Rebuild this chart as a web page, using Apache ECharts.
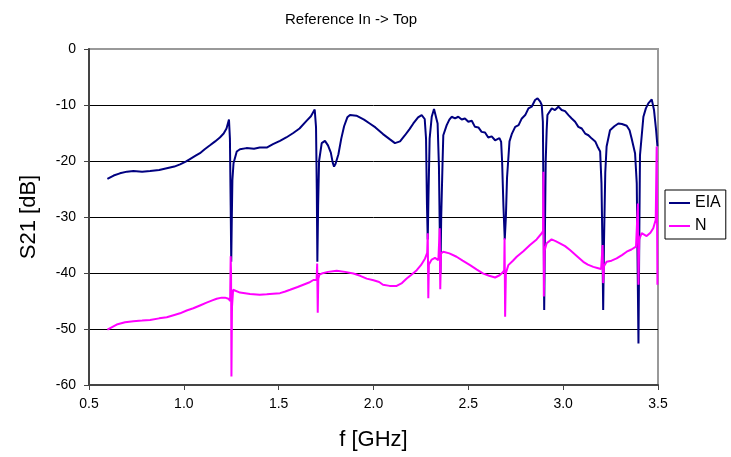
<!DOCTYPE html>
<html>
<head>
<meta charset="utf-8">
<script src="https://cdn.jsdelivr.net/npm/echarts@6/dist/echarts.min.js"></script>
<style>html,body{margin:0;padding:0;background:#fff}#c{width:731px;height:457px}</style>
</head>
<body>
<div id="c"></div>
<script>
const xTicks = [0.5, 1.0, 1.5, 2.0, 2.5, 3.0, 3.5];
const yTicks = [0, -10, -20, -30, -40, -50, -60];

const eiaFreq = [0.597,0.63,0.663,0.70,0.734,0.78,0.822,0.87,0.91,0.95,0.98,1.01,1.03,1.06,1.085,1.11,1.138,1.165,1.19,1.21,1.225,1.238,1.243,1.247,1.250,1.253,1.256,1.262,1.279,1.296,1.33,1.37,1.40,1.437,1.47,1.507,1.54,1.577,1.61,1.648,1.67,1.69,1.697,1.701,1.704,1.708,1.713,1.727,1.744,1.76,1.775,1.785,1.792,1.80,1.815,1.83,1.845,1.862,1.876,1.91,1.95,1.98,2.01,2.05,2.085,2.113,2.14,2.166,2.19,2.21,2.235,2.254,2.27,2.277,2.282,2.286,2.290,2.296,2.307,2.319,2.328,2.338,2.345,2.350,2.353,2.357,2.364,
  2.368,2.386,2.40,2.412,2.43,2.447,2.465,2.482,2.50,2.518,2.535,2.553,2.57,2.588,2.605,2.623,2.641,2.664,2.673,2.678,2.685,2.692,2.698,2.704,2.711,2.717,2.73,2.747,2.765,2.782,2.80,2.817,2.834,2.852,2.865,2.879,2.887,2.893,2.897,2.900,2.903,2.908,2.913,2.917,2.94,2.957,2.975,2.992,3.01,3.028,3.045,3.063,3.08,3.098,3.116,3.133,3.151,3.169,3.181,3.195,3.202,3.207,3.211,3.215,3.222,3.229,3.247,3.27,3.291,3.31,3.335,3.35,3.361,3.379,3.388,3.393,3.397,3.401,3.405,3.423,3.436,3.449,3.467,3.479,3.49,3.497];
const eiaDb = [-23.2,-22.6,-22.2,-21.9,-21.8,-21.9,-21.8,-21.6,-21.3,-21.0,-20.6,-20.1,-19.7,-19.1,-18.6,-17.9,-17.2,-16.5,-15.8,-15.1,-14.2,-12.6,-16,-28,-38,-30,-23.4,-20.4,-18.3,-17.9,-17.7,-17.8,-17.6,-17.6,-17.0,-16.4,-15.8,-15.0,-14.2,-12.8,-12.0,-10.8,-14,-25,-38,-28,-20,-16.8,-16.4,-17.2,-18.5,-20.3,-21.0,-20.5,-18.8,-16,-13.8,-12.2,-11.8,-11.9,-12.6,-13.3,-14.0,-15.2,-16.1,-16.8,-16.5,-15.4,-14.3,-13.3,-12.2,-11.8,-12.5,-16,-28,-34,-26,-16,-12.1,-10.7,-11.0,-13.3,-21,-34,-40,-30,-20.4,
  -15.4,-13.6,-12.6,-12.1,-12.4,-12.1,-12.6,-12.4,-13.0,-12.8,-13.9,-14.0,-14.8,-14.9,-15.8,-15.6,-16.3,-15.9,-16.6,-20,-28,-34,-30,-23,-19.5,-16.5,-15.1,-13.9,-13.6,-12.4,-11.8,-10.6,-10.3,-9.1,-8.8,-9.4,-10.0,-13,-30,-46.6,-35,-20,-14.5,-11.8,-10.6,-10.9,-10.3,-10.9,-11.1,-11.8,-12.4,-13.0,-13.9,-14.2,-15.1,-15.4,-16.0,-16.5,-17.4,-18.3,-24,-35,-46.6,-35,-22,-17.4,-14.5,-13.8,-13.3,-13.4,-13.7,-14.5,-16.0,-18.6,-24,-40,-52.6,-35,-19,-12.1,-10.6,-9.7,-9.0,-10.9,-14.5,-17.4];

const nFreq = [0.597,0.646,0.69,0.734,0.78,0.822,0.87,0.91,0.95,0.98,1.015,1.05,1.085,1.12,1.15,1.173,1.20,1.217,1.235,1.244,1.247,1.249,1.251,1.254,1.26,1.296,1.349,1.40,1.437,1.47,1.507,1.535,1.56,1.60,1.63,1.66,1.683,1.700,1.703,1.706,1.709,1.715,1.727,1.76,1.806,1.85,1.894,1.93,1.964,2.0,2.03,2.05,2.085,2.122,2.15,2.175,2.20,2.228,2.25,2.272,2.283,2.286,2.289,2.292,2.300,2.307,2.324,2.342,2.347,2.349,2.352,2.356,2.368,2.40,2.438,2.47,2.509,2.545,2.579,2.61,2.641,2.665,2.681,2.689,2.691,2.694,2.698,2.711,2.735,2.755,2.79,2.825,2.86,2.887,2.894,2.896,2.898,2.902,2.913,2.939,2.96,2.983,3.01,3.036,3.07,3.106,3.13,3.159,3.18,3.2,3.206,3.208,3.211,3.215,3.229,3.255,3.282,3.31,3.335,3.36,3.384,3.392,3.394,3.397,3.401,3.414,3.44,3.46,3.475,3.488,3.493,3.497];
const nDb = [-50.1,-49.2,-48.8,-48.6,-48.5,-48.4,-48.1,-47.9,-47.5,-47.2,-46.7,-46.3,-45.8,-45.3,-44.9,-44.6,-44.4,-44.4,-44.6,-45,-37,-40,-58.5,-46,-43.0,-43.5,-43.75,-43.9,-43.8,-43.7,-43.6,-43.3,-43.0,-42.5,-42.1,-41.7,-41.25,-41.2,-38.3,-47.1,-41,-40.3,-40.1,-39.8,-39.6,-39.8,-40.1,-40.5,-41.0,-41.3,-41.6,-42.1,-42.3,-42.3,-41.8,-41.0,-40.3,-39.5,-38.6,-37.4,-36.4,-32.9,-44.5,-38.5,-38.0,-37.6,-37.3,-37.7,-38,-32,-42.9,-36.5,-36.2,-36.5,-37.1,-37.8,-38.6,-39.4,-40.1,-40.5,-40.8,-40.4,-39.9,-39.5,-33.8,-47.8,-40,-38.6,-37.8,-37.1,-36.1,-35.0,-34.0,-32.9,-32.5,-21.9,-44.2,-36,-34.7,-34.0,-34.3,-34.7,-35.2,-35.9,-36.9,-38.0,-38.5,-38.9,-39.1,-39.3,-39.5,-35,-41.8,-38.8,-38.0,-37.8,-37.4,-36.8,-36.2,-35.8,-35.3,-35,-27.6,-42.1,-34,-32.9,-33.4,-32.8,-32.0,-30.5,-17.4,-42.1];

const seriesNames = ['EIA', 'N'];

const pair = (xs, ys) => xs.map((x, i) => [x, ys[i]]);
const FONT = 'Liberation Sans, Arial, sans-serif';

const chart = echarts.init(document.getElementById('c'), null, {renderer: 'canvas'});
chart.setOption({
  animation: false,
  backgroundColor: '#fff',
  title: {
    text: 'Reference In -> Top',
    left: 280, top: 7,
    textStyle: {fontFamily: FONT, fontSize: 15, fontWeight: 'normal', color: '#000'}
  },
  legend: {
    orient: 'vertical',
    left: 665, top: 190,
    data: seriesNames,
    icon: 'rect',
    itemWidth: 21, itemHeight: 2, itemGap: 7,
    padding: [5, 5, 5, 4],
    borderColor: '#000', borderWidth: 1,
    textStyle: {fontFamily: FONT, fontSize: 16, color: '#000'}
  },
  grid: {
    left: 89, right: 73, top: 49, bottom: 72,
    show: true, borderColor: '#999', borderWidth: 2, backgroundColor: '#fff'
  },
  xAxis: {
    type: 'value', min: xTicks[0], max: xTicks[xTicks.length - 1], interval: 0.5,
    name: 'f [GHz]', nameLocation: 'middle', nameGap: 44,
    nameTextStyle: {fontFamily: FONT, fontSize: 22, color: '#000'},
    axisLine: {show: true, onZero: false, lineStyle: {color: '#444', width: 2}},
    axisTick: {show: true, inside: false, length: 5, lineStyle: {color: '#444', width: 1}},
    axisLabel: {fontFamily: FONT, fontSize: 14, color: '#000', margin: 12, formatter: v => v.toFixed(1)},
    splitLine: {show: false}
  },
  yAxis: {
    type: 'value', min: yTicks[yTicks.length - 1], max: yTicks[0], interval: 10,
    name: 'S21 [dB]', nameLocation: 'middle', nameGap: 49,
    nameTextStyle: {fontFamily: FONT, fontSize: 22, color: '#000'},
    axisLine: {show: true, onZero: false, lineStyle: {color: '#444', width: 2}},
    axisTick: {show: true, inside: false, length: 5, lineStyle: {color: '#444', width: 1}},
    axisLabel: {fontFamily: FONT, fontSize: 14, color: '#000', margin: 13},
    splitLine: {show: true, lineStyle: {color: ['#444', '#000', '#000', '#000', '#000', '#000', '#999'], width: 1}}
  },
  series: [
    {
      name: seriesNames[0], type: 'line', data: pair(eiaFreq, eiaDb),
      showSymbol: false, symbol: 'none', smooth: false,
      lineStyle: {color: '#000080', width: 2}, itemStyle: {color: '#000080'}, z: 2
    },
    {
      name: seriesNames[1], type: 'line', data: pair(nFreq, nDb),
      showSymbol: false, symbol: 'none', smooth: false,
      lineStyle: {color: '#ff00ff', width: 2}, itemStyle: {color: '#ff00ff'}, z: 3
    }
  ]
});
</script>
</body>
</html>
